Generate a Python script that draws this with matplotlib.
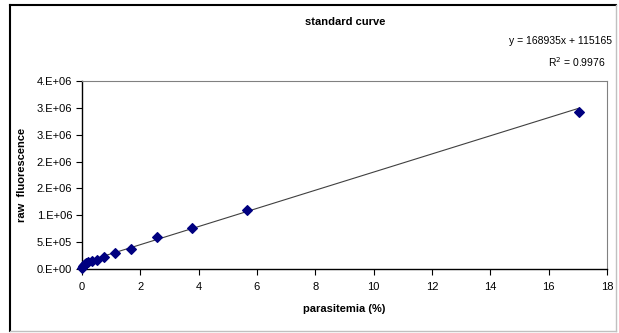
import matplotlib
matplotlib.use("Agg")
import matplotlib.pyplot as plt
from matplotlib.lines import Line2D
import numpy as np

plt.rcParams['font.family'] = ['Liberation Sans', 'DejaVu Sans']

# data
parasitemia = [17.05, 5.67, 3.78, 2.56, 1.69, 1.13, 0.75, 0.50, 0.33, 0.22, 0.15, 0.10, 0.066, 0.044, 0.0]
fluorescence = [2.92e6, 1.10e6, 0.77e6, 0.60e6, 0.37e6, 0.29e6, 0.23e6, 0.17e6, 0.15e6,
                0.13e6, 0.11e6, 0.09e6, 0.07e6, 0.05e6, 0.02e6]
slope = 168935
intercept = 115165
r2 = 0.9976

x_ticks = [0, 2, 4, 6, 8, 10, 12, 14, 16, 18]
y_ticks = [0, 5e5, 1e6, 1.5e6, 2e6, 2.5e6, 3e6, 3.5e6]
y_tick_labels = ['0.E+00', '5.E+05', '1.E+06', '2.E+06', '2.E+06', '3.E+06', '3.E+06', '4.E+06']

W, H = 619, 333
fig = plt.figure(figsize=(W / 100, H / 100), dpi=100)
ax = fig.add_axes([82 / W, 1 - 269 / H, (607 - 82) / W, (269 - 81) / H])

# trendline
xs = np.array([min(parasitemia), max(parasitemia)])
ax.plot(xs, slope * xs + intercept, color='#404040', lw=0.8, zorder=2)
ax.scatter(parasitemia, fluorescence, marker='D', s=24, color='#000080',
           edgecolors='#000080', zorder=3, clip_on=False)

ax.set_xlim(0, 18)
ax.set_ylim(0, 3.5e6)
ax.set_xticks(x_ticks)
ax.set_xticklabels([str(t) for t in x_ticks])
ax.set_yticks(y_ticks)
ax.set_yticklabels(y_tick_labels)
ax.tick_params(axis='both', direction='out', length=4, width=0.8, labelsize=8, colors='black', pad=3)
ax.tick_params(axis='x', pad=5)

for s in ['left', 'bottom']:
    ax.spines[s].set_color('black')
    ax.spines[s].set_linewidth(1.0)
for s in ['top', 'right']:
    ax.spines[s].set_color('#808080')
    ax.spines[s].set_linewidth(0.8)

ax.set_xlabel('parasitemia (%)', fontsize=8, fontweight='bold', labelpad=9)
ax.set_ylabel('raw  fluorescence', fontsize=8, fontweight='bold', labelpad=7)

fig.text(345 / W, 1 - 22 / H, 'standard curve', ha='center', va='center', fontsize=8, fontweight='bold')
fig.text(612 / W, 1 - 41 / H, 'y = %dx + %d' % (slope, intercept), ha='right', va='center', fontsize=7.5)
fig.text(606 / W, 1 - 62 / H, 'R$^2$ = %.4f' % r2, ha='right', va='center', fontsize=7.5)

# chart area frame
fig.add_artist(Line2D([10 / W, 616 / W], [1 - 5 / H, 1 - 5 / H], color='black', lw=1.5, transform=fig.transFigure))
fig.add_artist(Line2D([10 / W, 10 / W], [1 - 5 / H, 1 - 331 / H], color='black', lw=1.5, transform=fig.transFigure))
fig.add_artist(Line2D([10 / W, 616 / W], [1 - 331 / H, 1 - 331 / H], color='#c0c0c0', lw=1.0, transform=fig.transFigure))
fig.add_artist(Line2D([616 / W, 616 / W], [1 - 5 / H, 1 - 331 / H], color='#c0c0c0', lw=1.0, transform=fig.transFigure))

fig.savefig('out.png', dpi=100)
